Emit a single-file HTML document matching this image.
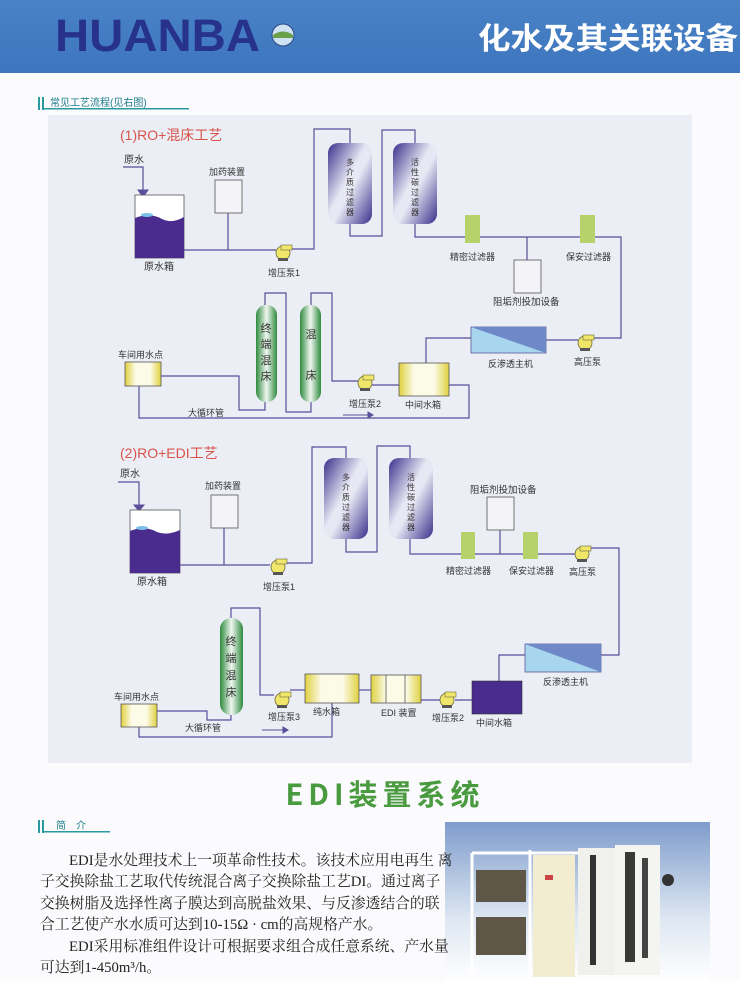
<!DOCTYPE html>
<html><head><meta charset="utf-8"><style>
html,body{margin:0;padding:0;background:#fbfbfd;}
body{width:740px;height:981px;overflow:hidden;position:relative;font-family:"Liberation Sans","Noto Sans CJK SC",sans-serif;}
.p{position:absolute;left:40px;width:380px;font-family:"Liberation Serif","Noto Serif CJK SC",serif;font-size:14.8px;color:#222;white-space:nowrap;letter-spacing:0px;}
</style></head><body>
<svg width="740" height="981" style="position:absolute;left:0;top:0" font-family="Liberation Sans, Noto Sans CJK SC, sans-serif">
<defs>
<linearGradient id="hb" x1="0" y1="0" x2="0" y2="1"><stop offset="0" stop-color="#4a82c6"/><stop offset="1" stop-color="#3d76bd"/></linearGradient>
<linearGradient id="ves" x1="0" y1="0" x2="1" y2="1"><stop offset="0" stop-color="#3c2f8c"/><stop offset="0.45" stop-color="#e8e8f4"/><stop offset="0.55" stop-color="#e8e8f4"/><stop offset="1" stop-color="#3c2f8c"/></linearGradient>
<linearGradient id="col" x1="0" y1="0" x2="1" y2="0"><stop offset="0" stop-color="#2e8a3e"/><stop offset="0.5" stop-color="#f0f6f0"/><stop offset="1" stop-color="#2e8a3e"/></linearGradient>
<linearGradient id="ytank" x1="0" y1="0" x2="1" y2="0"><stop offset="0" stop-color="#e0d040"/><stop offset="0.3" stop-color="#fbfbe8"/><stop offset="0.7" stop-color="#fbfbe8"/><stop offset="1" stop-color="#e0d040"/></linearGradient>
<linearGradient id="photo" x1="0" y1="0" x2="0" y2="1"><stop offset="0" stop-color="#7e9ccb"/><stop offset="0.6" stop-color="#dde6f2"/><stop offset="1" stop-color="#ffffff"/></linearGradient>
<g id="pump"><circle r="7" fill="#efe66a" stroke="#6a6a40" stroke-width="0.8"/><rect x="-2" y="-8" width="11" height="5" fill="#efe66a" stroke="#6a6a40" stroke-width="0.6"/><rect x="-5" y="5" width="10" height="3" fill="#555"/></g>
<g id="vessel"><rect x="0" y="0" width="44" height="81" rx="10" fill="url(#ves)"/></g>
</defs>
<rect x="0" y="0" width="740" height="73" fill="url(#hb)"/>
<text x="55" y="51" font-size="45" font-weight="bold" fill="#27328a" textLength="205" lengthAdjust="spacingAndGlyphs">HUANBA</text>
<circle cx="283" cy="35" r="11" fill="#cfe2f2" stroke="#2a4a8a" stroke-width="1"/><path d="M273 35 Q283 28 293 35 L293 38 L273 38Z" fill="#6aa04a"/>
<text x="478" y="49" font-size="30" font-weight="bold" fill="#fff" font-family="Noto Sans CJK SC, sans-serif" textLength="260" lengthAdjust="spacingAndGlyphs">化水及其关联设备</text>
<rect x="38" y="97" width="2" height="13" fill="#2a9aa0"/><rect x="42" y="97" width="2" height="13" fill="#2a9aa0"/><rect x="42" y="108" width="147" height="1.5" fill="#2a9aa0"/>
<text x="50" y="106" font-size="10" fill="#1a7a8a">常见工艺流程(见右图)</text>
<rect x="48" y="115" width="644" height="648" fill="#eceef6"/>
<g fill="none" stroke="#5a4f9a" stroke-width="1.2">
<path d="M123 167 H143 V190"/>
<path d="M184 250 H276"/><path d="M228 213 V250"/>
<path d="M290 249 H314 V129 H350 V143"/>
<path d="M350 224 V236 H382 V130 H415 V143"/>
<path d="M415 224 V237 H621 V338 H592"/>
<path d="M527 237 V260"/>
<path d="M578 340 H546"/>
<path d="M471 338 H426 V363"/>
<path d="M449 385 H469 V418 H139 V386"/>
<path d="M399 385 H372"/>
<path d="M358 381 H332 V293 H311 V305"/>
<path d="M311 402 V412 H286 V293 H265 V305"/>
<path d="M265 402 V410 H239 V376 H160"/>
<path d="M118 482 H139 V505"/>
<path d="M180 565 H270"/><path d="M224 528 V565"/>
<path d="M285 563 H312 V447 H346 V458"/>
<path d="M346 538 V552 H377 V446 H410 V458"/>
<path d="M410 538 V554 H575"/>
<path d="M500 530 V554"/>
<path d="M590 548 H619 V655 H601"/>
<path d="M525 655 H499 V681"/>
<path d="M472 700 H455"/><path d="M440 700 H421"/><path d="M371 690 H359"/>
<path d="M305 690 H290"/>
<path d="M274 695 H260 V608 H231 V618"/>
<path d="M231 715 V720 H207 V711 H157"/>
<path d="M139 726 V737 H332 V703"/>
</g>
<g stroke="#5a4f9a" stroke-width="1" fill="#5a4f9a">
<path d="M343 415 H368" fill="none"/><path d="M368 412 L373 415 L368 418Z"/>
<path d="M262 730 H283" fill="none"/><path d="M283 727 L288 730 L283 733Z"/>
<path d="M138 190 L148 190 L143 197Z"/><path d="M134 505 L144 505 L139 511Z"/>
</g>
<text x="120" y="140" font-size="14" fill="#d8544a">(1)RO+混床工艺</text>
<text x="124" y="163" font-size="10" fill="#333">原水</text>
<rect x="135" y="195" width="49" height="63" fill="#fff" stroke="#555" stroke-width="0.8"/>
<path d="M135 218 Q150 212 162 219 Q172 224 184 217 V258 H135Z" fill="#4a2c8e"/>
<ellipse cx="147" cy="215" rx="6" ry="2" fill="#7ac0e8"/>
<text x="144" y="270" font-size="10" fill="#333">原水箱</text>
<text x="209" y="175" font-size="9" fill="#333">加药装置</text>
<rect x="215" y="180" width="27" height="33" fill="#f4f4f8" stroke="#555" stroke-width="0.8"/>
<use href="#pump" x="283" y="253"/>
<text x="268" y="276" font-size="9" fill="#333">增压泵1</text>
<use href="#vessel" x="328" y="143"/><use href="#vessel" x="393" y="143"/>
<g font-size="8" fill="#333" text-anchor="middle"><text x="350" y="165">多</text><text x="350" y="175">介</text><text x="350" y="185">质</text><text x="350" y="195">过</text><text x="350" y="205">滤</text><text x="350" y="215">器</text>
<text x="415" y="165">活</text><text x="415" y="175">性</text><text x="415" y="185">碳</text><text x="415" y="195">过</text><text x="415" y="205">滤</text><text x="415" y="215">器</text></g>
<rect x="465" y="215" width="15" height="28" fill="#b6d26a"/><rect x="580" y="215" width="15" height="28" fill="#b6d26a"/>
<text x="450" y="260" font-size="9" fill="#333">精密过滤器</text><text x="566" y="260" font-size="9" fill="#333">保安过滤器</text>
<rect x="514" y="260" width="27" height="33" fill="#f4f4f8" stroke="#555" stroke-width="0.8"/>
<text x="493" y="305" font-size="9.5" fill="#333">阻垢剂投加设备</text>
<rect x="471" y="327" width="75" height="26" fill="#a8d6ee" stroke="#5a5a9a" stroke-width="0.8"/><path d="M471 327 H546 V353Z" fill="#6e88c8"/>
<text x="488" y="367" font-size="9" fill="#333">反渗透主机</text>
<use href="#pump" x="585" y="343"/>
<text x="574" y="365" font-size="9" fill="#333">高压泵</text>
<rect x="399" y="363" width="50" height="33" fill="url(#ytank)" stroke="#555" stroke-width="0.8"/>
<text x="405" y="408" font-size="9" fill="#333">中间水箱</text>
<use href="#pump" x="365" y="383"/>
<text x="349" y="407" font-size="9" fill="#333">增压泵2</text>
<rect x="256" y="305" width="21" height="97" rx="10" fill="url(#col)"/><rect x="300" y="305" width="21" height="97" rx="10" fill="url(#col)"/>
<g font-size="11" fill="#333" text-anchor="middle"><text x="266" y="332">终</text><text x="266" y="348">端</text><text x="266" y="364">混</text><text x="266" y="380">床</text><text x="311" y="338">混</text><text x="311" y="379">床</text></g>
<rect x="125" y="362" width="36" height="24" fill="url(#ytank)" stroke="#555" stroke-width="0.8"/>
<text x="118" y="358" font-size="9" fill="#333">车间用水点</text>
<text x="188" y="416" font-size="9" fill="#333">大循环管</text>
<text x="120" y="458" font-size="14" fill="#d8544a">(2)RO+EDI工艺</text>
<text x="120" y="477" font-size="10" fill="#333">原水</text>
<rect x="130" y="510" width="50" height="63" fill="#fff" stroke="#555" stroke-width="0.8"/>
<path d="M130 531 Q145 525 157 532 Q167 536 180 530 V573 H130Z" fill="#4a2c8e"/>
<ellipse cx="142" cy="528" rx="6" ry="2" fill="#7ac0e8"/>
<text x="137" y="585" font-size="10" fill="#333">原水箱</text>
<text x="205" y="489" font-size="9" fill="#333">加药装置</text>
<rect x="211" y="495" width="27" height="33" fill="#f4f4f8" stroke="#555" stroke-width="0.8"/>
<use href="#pump" x="278" y="567"/>
<text x="263" y="590" font-size="9" fill="#333">增压泵1</text>
<use href="#vessel" x="324" y="458"/><use href="#vessel" x="389" y="458"/>
<g font-size="8" fill="#333" text-anchor="middle"><text x="346" y="480">多</text><text x="346" y="490">介</text><text x="346" y="500">质</text><text x="346" y="510">过</text><text x="346" y="520">滤</text><text x="346" y="530">器</text>
<text x="411" y="480">活</text><text x="411" y="490">性</text><text x="411" y="500">碳</text><text x="411" y="510">过</text><text x="411" y="520">滤</text><text x="411" y="530">器</text></g>
<rect x="461" y="532" width="14" height="27" fill="#b6d26a"/><rect x="523" y="532" width="15" height="27" fill="#b6d26a"/>
<text x="446" y="574" font-size="9" fill="#333">精密过滤器</text><text x="509" y="574" font-size="9" fill="#333">保安过滤器</text>
<rect x="487" y="497" width="27" height="33" fill="#f4f4f8" stroke="#555" stroke-width="0.8"/>
<text x="470" y="493" font-size="9.5" fill="#333">阻垢剂投加设备</text>
<use href="#pump" x="582" y="554"/>
<text x="569" y="575" font-size="9" fill="#333">高压泵</text>
<rect x="525" y="644" width="76" height="28" fill="#a8d6ee" stroke="#5a5a9a" stroke-width="0.8"/><path d="M525 644 H601 V672Z" fill="#6e88c8"/>
<text x="543" y="685" font-size="9" fill="#333">反渗透主机</text>
<rect x="472" y="681" width="50" height="33" fill="#4a2c8e" stroke="#333" stroke-width="0.6"/>
<text x="476" y="726" font-size="9" fill="#333">中间水箱</text>
<use href="#pump" x="447" y="700"/>
<text x="432" y="721" font-size="9" fill="#333">增压泵2</text>
<rect x="371" y="675" width="50" height="28" fill="url(#ytank)" stroke="#555" stroke-width="0.8"/>
<path d="M386 675 V703 M405 675 V703" stroke="#555" stroke-width="0.8"/>
<text x="381" y="716" font-size="9" fill="#333">EDI 装置</text>
<rect x="305" y="674" width="54" height="29" fill="url(#ytank)" stroke="#555" stroke-width="0.8"/>
<text x="313" y="715" font-size="9" fill="#333">纯水箱</text>
<use href="#pump" x="282" y="700"/>
<text x="268" y="720" font-size="9" fill="#333">增压泵3</text>
<rect x="220" y="618" width="23" height="97" rx="11" fill="url(#col)"/>
<g font-size="11" fill="#333" text-anchor="middle"><text x="231" y="645">终</text><text x="231" y="662">端</text><text x="231" y="679">混</text><text x="231" y="696">床</text></g>
<rect x="121" y="704" width="36" height="23" fill="url(#ytank)" stroke="#555" stroke-width="0.8"/>
<text x="114" y="700" font-size="9" fill="#333">车间用水点</text>
<text x="185" y="731" font-size="9" fill="#333">大循环管</text>
<text x="385" y="805" font-size="29" font-weight="bold" fill="#4a9a40" text-anchor="middle" letter-spacing="5" font-family="Noto Sans CJK SC, sans-serif">EDI装置系统</text>
<rect x="38" y="820" width="2" height="13" fill="#2a9aa0"/><rect x="42" y="820" width="2" height="13" fill="#2a9aa0"/><rect x="42" y="831" width="68" height="1.5" fill="#2a9aa0"/>
<text x="56" y="829" font-size="10" fill="#1a7a8a">简　介</text>
<rect x="445" y="822" width="265" height="159" fill="url(#photo)"/>
<path d="M472 853 H612 M472 853 V972 M530 850 V975 M612 848 V975" stroke="#fff" stroke-width="3" fill="none"/>
<rect x="476" y="870" width="50" height="32" fill="#5e5646"/><rect x="476" y="917" width="50" height="38" fill="#5e5646"/>
<rect x="533" y="855" width="42" height="122" fill="#f2ecd0"/><rect x="545" y="875" width="8" height="5" fill="#c44"/>
<rect x="578" y="848" width="38" height="127" fill="#f0f0ec"/>
<rect x="615" y="845" width="45" height="130" fill="#f4f4f0"/>
<rect x="590" y="855" width="6" height="110" fill="#333"/><rect x="625" y="852" width="10" height="110" fill="#3a3a34"/><rect x="642" y="858" width="6" height="100" fill="#444"/>
<circle cx="668" cy="880" r="6" fill="#333"/>
</svg>
<div class="p" style="top:849px;text-indent:29px">EDI是水处理技术上一项革命性技术。该技术应用电再生 离</div>
<div class="p" style="top:870px">子交换除盐工艺取代传统混合离子交换除盐工艺DI。通过离子</div>
<div class="p" style="top:892px">交换树脂及选择性离子膜达到高脱盐效果、与反渗透结合的联</div>
<div class="p" style="top:913px">合工艺使产水水质可达到10-15Ω · cm的高规格产水。</div>
<div class="p" style="top:935px;text-indent:29px">EDI采用标准组件设计可根据要求组合成任意系统、产水量</div>
<div class="p" style="top:956px">可达到1-450m³/h。</div>
</body></html>
